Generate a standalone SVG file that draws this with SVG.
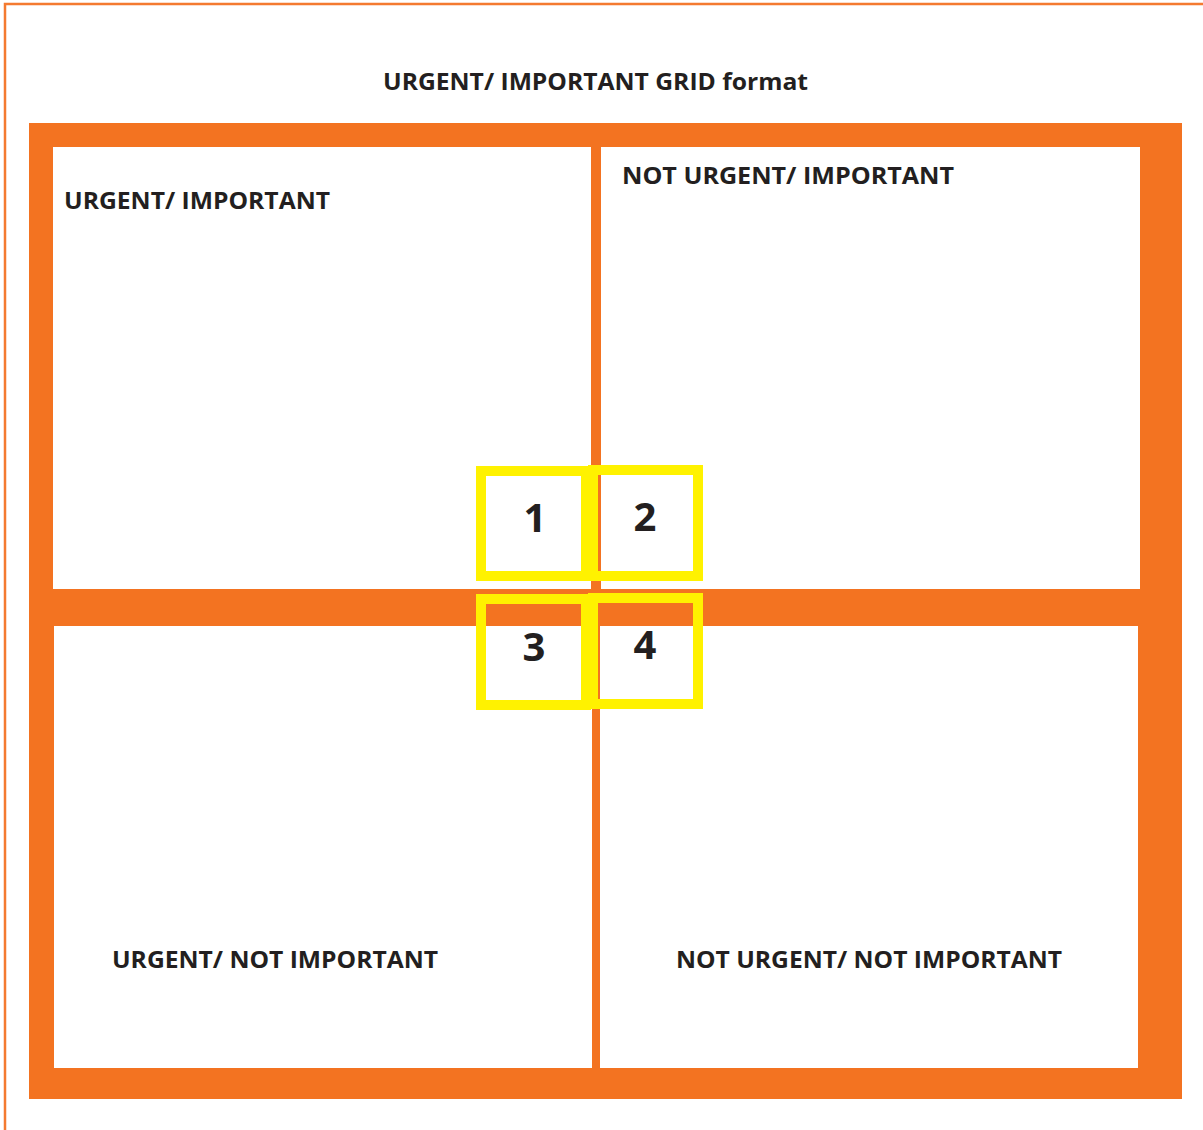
<svg xmlns="http://www.w3.org/2000/svg" width="1203" height="1130" viewBox="0 0 1203 1130">
  <style>
    .lbl { font-family: "Open Sans", "Liberation Sans", sans-serif; font-weight: 700; font-size: 24px; fill: #231F20; }
    .num { font-family: "Open Sans", "Liberation Sans", sans-serif; font-weight: 700; font-size: 40px; fill: #231F20; text-anchor: middle; }
    .cell { fill: #FFFFFF; }
    .mark { fill: none; stroke: #FFF200; stroke-width: 10; }
  </style>
  <rect width="1203" height="1130" fill="#FFFFFF"/>
  <!-- page frame -->
  <rect x="5" y="4" width="1230" height="1160" fill="none" stroke="#F47A30" stroke-width="2.5"/>
  <text class="lbl" x="383" y="90" textLength="425" lengthAdjust="spacingAndGlyphs">URGENT/ IMPORTANT GRID format</text>

  <!-- orange grid body -->
  <g id="grid">
    <rect x="29" y="123" width="1153" height="976" fill="#F37321"/>
  </g>

  <g id="q1">
    <rect class="cell" x="53" y="147" width="538" height="442"/>
    <text class="lbl" x="64" y="209" textLength="266" lengthAdjust="spacingAndGlyphs">URGENT/ IMPORTANT</text>
  </g>
  <g id="q2">
    <rect class="cell" x="601" y="147" width="539" height="442"/>
    <text class="lbl" x="622" y="184" textLength="332" lengthAdjust="spacingAndGlyphs">NOT URGENT/ IMPORTANT</text>
  </g>
  <g id="q3">
    <rect class="cell" x="54" y="626" width="538" height="442"/>
    <text class="lbl" x="112" y="968" textLength="326" lengthAdjust="spacingAndGlyphs">URGENT/ NOT IMPORTANT</text>
  </g>
  <g id="q4">
    <rect class="cell" x="600" y="626" width="538" height="442"/>
    <text class="lbl" x="676" y="968" textLength="386" lengthAdjust="spacingAndGlyphs">NOT URGENT/ NOT IMPORTANT</text>
  </g>

  <!-- numbered markers -->
  <g id="connectors"></g>
  <g id="m1">
    <rect class="mark" x="481" y="471" width="105" height="105"/>
    <text class="num" x="535" y="532">1</text>
  </g>
  <g id="m2">
    <rect class="mark" x="593" y="470" width="105" height="106"/>
    <text class="num" x="645" y="531">2</text>
  </g>
  <g id="m3">
    <rect class="mark" x="481" y="599" width="105" height="106"/>
    <text class="num" x="534" y="661">3</text>
  </g>
  <g id="m4">
    <rect class="mark" x="593" y="598" width="105" height="106"/>
    <text class="num" x="645" y="659">4</text>
  </g>
</svg>
